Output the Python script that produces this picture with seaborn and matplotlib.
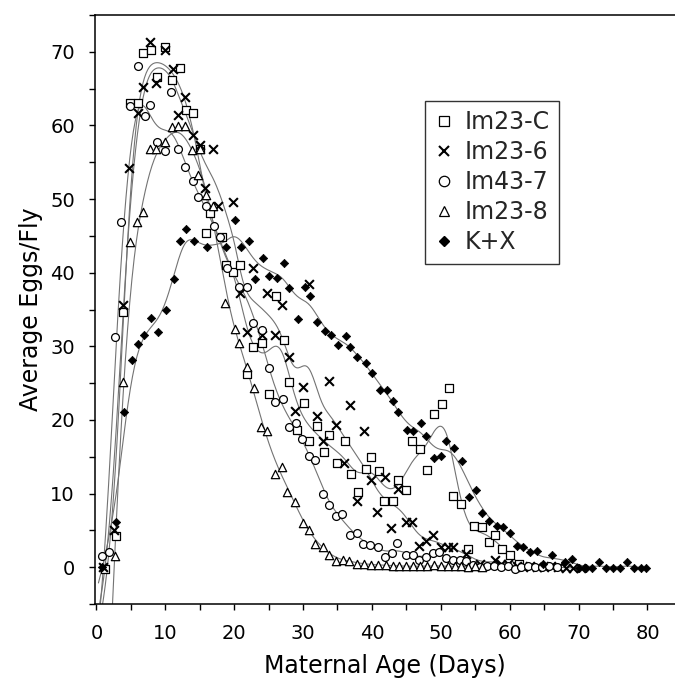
import numpy as np
import pandas as pd
import matplotlib
matplotlib.use("Agg")
import matplotlib.pyplot as plt
import seaborn as sns
from matplotlib.ticker import MultipleLocator
from matplotlib.lines import Line2D

sns.set_theme(style="ticks")
plt.rcParams['font.family'] = ['DejaVu Sans']

# ---------------- data ----------------
series_names = ["Im23-C", "Im23-6", "Im43-7", "Im23-8", "K+X"]

c_x = [1.3, 2.9, 3.9, 4.9, 6.0, 6.8, 8.0, 8.8, 9.9, 11.0, 12.1, 13.0, 14.0, 15.1, 15.9, 16.5,
       18.2, 18.8, 19.9, 20.9, 21.9, 22.8, 24.1, 25.0, 26.1, 27.3, 28.0, 29.1, 30.2, 30.9,
       32.0, 33.0, 33.8, 34.9, 36.1, 36.9, 38.0, 39.1, 39.8, 41.0, 41.7, 43.0, 43.8, 44.9,
       45.8, 47.0, 48.0, 49.0, 50.2, 51.2, 51.7, 52.9, 53.9, 54.8, 56.0, 57.0, 57.8, 58.9,
       60.1, 61.3]
c_y = [-0.2, 4.3, 34.6, 63.1, 63.1, 69.8, 70.3, 66.6, 70.6, 66.2, 67.8, 62.1, 61.7, 56.8, 45.4, 48.1,
       44.8, 41.1, 40.1, 41.1, 26.3, 29.9, 30.4, 23.5, 36.9, 30.8, 25.1, 18.6, 22.3, 17.1,
       19.2, 15.7, 18.0, 14.2, 17.2, 12.7, 10.2, 13.3, 14.9, 13.1, 9.0, 9.0, 11.8, 10.5,
       17.1, 16.0, 13.2, 20.8, 22.1, 24.3, 9.7, 8.6, 2.5, 5.6, 5.5, 3.4, 4.4, 2.5,
       1.7, 0.5]

s6_x = [1.0, 2.5, 3.8, 4.8, 6.0, 6.8, 7.8, 8.7, 10.0, 11.1, 11.9, 12.8, 14.0, 15.0, 15.8, 16.9,
        17.7, 19.9, 20.8, 21.8, 22.8, 24.0, 24.7, 25.9, 26.9, 27.9, 28.8, 30.0, 30.8, 32.0,
        32.9, 33.8, 34.8, 35.9, 36.8, 37.9, 38.8, 39.8, 40.8, 41.9, 42.7, 43.8, 44.9, 45.8,
        46.9, 47.8, 48.8, 50.1, 51.0, 51.7, 53.7, 55.7, 57.8, 58.8, 59.8, 61.0, 62.0, 63.0,
        64.0, 65.0, 66.0, 67.0, 68.2, 69.2, 70.4]
s6_y = [0.0, 5.1, 35.6, 54.2, 61.7, 65.2, 71.3, 65.7, 70.2, 67.6, 61.4, 63.8, 58.7, 57.4, 51.5, 56.8,
        49.0, 49.6, 37.3, 31.9, 40.7, 31.5, 37.3, 31.5, 35.6, 28.5, 21.2, 24.5, 38.4, 20.5,
        17.1, 25.3, 19.3, 14.2, 22.0, 9.0, 18.5, 11.8, 7.5, 12.3, 5.3, 10.6, 6.2, 6.2,
        2.9, 3.6, 4.4, 2.8, 2.8, 2.7, 1.8, 0.5, 1.0, 0.4, 0.4, 0.1, 0.0, 0.1,
        0.0, 0.0, 0.1, 0.0, -0.1, -0.1, -0.1]

s7_x = [0.8, 1.8, 2.75, 3.6, 4.9, 6.0, 7.0, 7.8, 8.8, 9.9, 10.8, 11.9, 12.9, 14.0, 14.8, 15.9,
        17.1, 18.0, 18.9, 20.7, 21.8, 22.8, 24.0, 25.0, 25.9, 27.1, 27.9, 29.0, 29.8, 30.8,
        31.7, 32.9, 33.8, 34.8, 35.7, 36.8, 37.9, 38.7, 39.7, 40.9, 41.9, 42.9, 43.7, 44.9,
        45.9, 46.9, 47.8, 48.8, 49.8, 50.8, 51.8, 52.8, 53.7, 54.7, 55.7, 56.7, 57.7, 58.7,
        59.7, 60.7, 61.7, 62.7, 63.7, 64.7, 65.7, 66.8]
s7_y = [1.5, 2.1, 31.3, 46.9, 62.6, 68.1, 61.3, 62.8, 57.8, 56.5, 64.5, 56.8, 54.3, 52.5, 50.3, 49.1,
        46.4, 44.8, 40.6, 38.1, 38.1, 33.1, 32.2, 27.0, 22.5, 22.8, 19.0, 19.6, 17.4, 15.1,
        14.6, 9.9, 8.4, 6.9, 7.2, 4.4, 4.6, 3.2, 3.0, 2.7, 1.4, 1.9, 3.3, 1.7,
        1.7, 1.0, 1.4, 1.9, 2.1, 1.3, 1.0, 1.0, 0.8, 0.3, 0.0, 0.1, 0.1, 0.0,
        0.1, -0.2, 0.0, 0.1, 0.0, 0.0, 0.1, 0.0]

s8_x = [2.75, 3.8, 4.9, 5.9, 6.8, 7.8, 8.7, 9.9, 11.0, 11.9, 12.9, 13.9, 14.7, 15.0, 15.9, 17.0,
        18.7, 20.1, 20.7, 21.8, 22.9, 23.9, 24.7, 25.9, 27.0, 27.7, 28.8, 29.95, 30.8, 31.7,
        32.9, 33.7, 34.8, 35.8, 36.7, 37.8, 38.8, 39.8, 40.9, 42.0, 43.0, 44.0, 45.0, 46.0,
        47.0, 48.0, 49.0, 50.0, 51.0, 52.0, 53.0, 54.0, 55.0, 56.0]
s8_y = [1.5, 25.2, 44.2, 46.9, 48.3, 56.8, 56.8, 57.8, 59.8, 59.9, 59.9, 56.6, 53.3, 56.8, 50.6, 49.1,
        35.9, 32.3, 30.4, 27.2, 24.4, 19.0, 18.5, 12.7, 13.6, 10.2, 8.9, 6.0, 5.0, 3.2,
        2.8, 1.7, 0.9, 1.0, 0.9, 0.5, 0.5, 0.3, 0.3, 0.3, 0.2, 0.2, 0.1, 0.1,
        0.1, 0.2, 0.3, 0.1, 0.1, 0.1, 0.1, 0.0, 0.1, 0.0]

kx_x = [0.8, 2.9, 4.0, 5.2, 6.0, 6.9, 7.9, 9.0, 10.1, 11.2, 12.2, 13.0, 14.1, 16.0, 18.8, 20.1,
        21.0, 22.1, 23.1, 24.2, 25.1, 26.2, 27.2, 28.0, 29.2, 30.3, 31.0, 32.1, 33.2, 34.0,
        35.1, 36.2, 36.8, 37.9, 39.2, 40.0, 41.2, 42.2, 43.0, 43.8, 45.1, 46.0, 47.1, 47.9,
        49.0, 50.0, 50.8, 51.9, 53.1, 54.1, 55.1, 56.0, 57.0, 58.1, 59.0, 60.0, 61.0, 62.0,
        63.0, 63.9, 64.9, 66.2, 68.0, 69.1, 70.0, 71.1, 72.0, 72.9, 74.0, 75.0, 76.0, 77.1,
        78.1, 79.0, 79.8]
kx_y = [0.0, 6.2, 21.1, 28.1, 30.3, 31.6, 33.9, 32.0, 34.9, 39.1, 44.3, 45.9, 44.3, 43.5, 43.5, 47.2,
        43.5, 44.3, 39.1, 42.0, 39.6, 39.3, 41.3, 37.9, 33.7, 38.0, 36.8, 33.3, 32.1, 31.6,
        30.2, 31.4, 29.9, 28.5, 27.8, 26.4, 24.1, 24.1, 22.6, 21.1, 18.7, 18.5, 19.6, 17.8,
        14.8, 15.1, 17.2, 16.2, 14.4, 9.6, 10.5, 7.3, 6.3, 5.6, 5.4, 4.7, 2.9, 2.8,
        2.1, 2.2, 0.5, 1.7, 0.7, 1.1, -0.1, -0.1, -0.1, 0.7, -0.1, -0.1, -0.1, 0.7,
        -0.1, -0.1, -0.1]

x_ticks = [0, 10, 20, 30, 40, 50, 60, 70, 80]
y_ticks = [0, 10, 20, 30, 40, 50, 60, 70]

# ---------------- build tables ----------------
xs = [c_x, s6_x, s7_x, s8_x, kx_x]
ys = [c_y, s6_y, s7_y, s8_y, kx_y]
df = pd.concat([pd.DataFrame({"age": x, "eggs": y, "line": n})
                for n, x, y in zip(series_names, xs, ys)], ignore_index=True)


def local_linear(x, y, h=1.35, n=500):
    x = np.asarray(x, float)
    y = np.asarray(y, float)
    g = np.linspace(x.min() - 0.5, x.max(), n)
    out = np.empty_like(g)
    for i, gi in enumerate(g):
        w = np.exp(-0.5 * ((x - gi) / h) ** 2)
        X = np.column_stack([np.ones_like(x), x - gi])
        A = X.T @ (w[:, None] * X)
        b = X.T @ (w * y)
        out[i] = np.linalg.solve(A, b)[0]
    return g, out


curves = []
for n in series_names:
    sub = df[df.line == n]
    g, s = local_linear(sub.age.values, sub.eggs.values)
    curves.append(pd.DataFrame({"age": g, "eggs": s, "line": n}))
curves = pd.concat(curves, ignore_index=True)

# ---------------- figure ----------------
fig = plt.figure(figsize=(6.75, 6.79), dpi=100)
ax = fig.add_axes([95 / 675, 1 - 604 / 679, 580 / 675, 589 / 679])

sns.lineplot(data=curves, x="age", y="eggs", hue="line", palette={n: "0.45" for n in series_names},
             estimator=None, sort=False, linewidth=0.8, legend=False, ax=ax, zorder=1)

styles = {
    "Im23-C": dict(marker="s", s=32, color="white", edgecolor="black", linewidth=0.9),
    "Im23-6": dict(marker="x", s=40, color="black", linewidth=1.5),
    "Im43-7": dict(marker="o", s=32, color="white", edgecolor="black", linewidth=0.9),
    "Im23-8": dict(marker="^", s=36, color="white", edgecolor="black", linewidth=0.9),
    "K+X": dict(marker="D", s=18, color="black", edgecolor="black", linewidth=0.5),
}
for n in series_names:
    sub = df[df.line == n]
    sns.scatterplot(x=sub.age, y=sub.eggs, ax=ax, legend=False, zorder=3, **styles[n])

ax.set_xlim(-0.2, 84)
ax.set_ylim(-5, 75)
ax.set_xticks(x_ticks)
ax.set_yticks(y_ticks)
ax.xaxis.set_minor_locator(MultipleLocator(5))
ax.yaxis.set_minor_locator(MultipleLocator(5))
ax.tick_params(which="both", direction="out", length=4.5, width=1, color="black",
               labelsize=14, pad=10, labelcolor="black")
for side in ["left", "bottom", "top"]:
    ax.spines[side].set_color("black")
    ax.spines[side].set_linewidth(1.1)
ax.spines["right"].set_visible(False)

ax.set_xlabel("Maternal Age (Days)", fontsize=17, color="black")
ax.set_ylabel("Average Eggs/Fly", fontsize=17, color="black")
ax.xaxis.set_label_coords(0.5, -0.085)
ax.yaxis.set_label_coords(-0.09, 0.5)

handles = []
for n in series_names:
    mk = styles[n]["marker"]
    if mk == "x":
        h = Line2D([], [], marker="x", linestyle="none", color="black", markersize=7.5, markeredgewidth=1.5)
    elif mk == "D":
        h = Line2D([], [], marker="D", linestyle="none", color="black", markersize=5)
    else:
        h = Line2D([], [], marker=mk, linestyle="none", markerfacecolor="white",
                   markeredgecolor="black", markersize=7.5, markeredgewidth=0.9)
    handles.append(h)
leg = ax.legend(handles, series_names, loc="upper right", bbox_to_anchor=(0.821, 0.874),
                fontsize=17, frameon=True, fancybox=False, edgecolor="black",
                handlelength=0.8, handletextpad=0.5, labelspacing=0.25, borderpad=0.4)
leg.get_frame().set_linewidth(1.0)

fig.savefig("out.png", dpi=100, facecolor="white")
